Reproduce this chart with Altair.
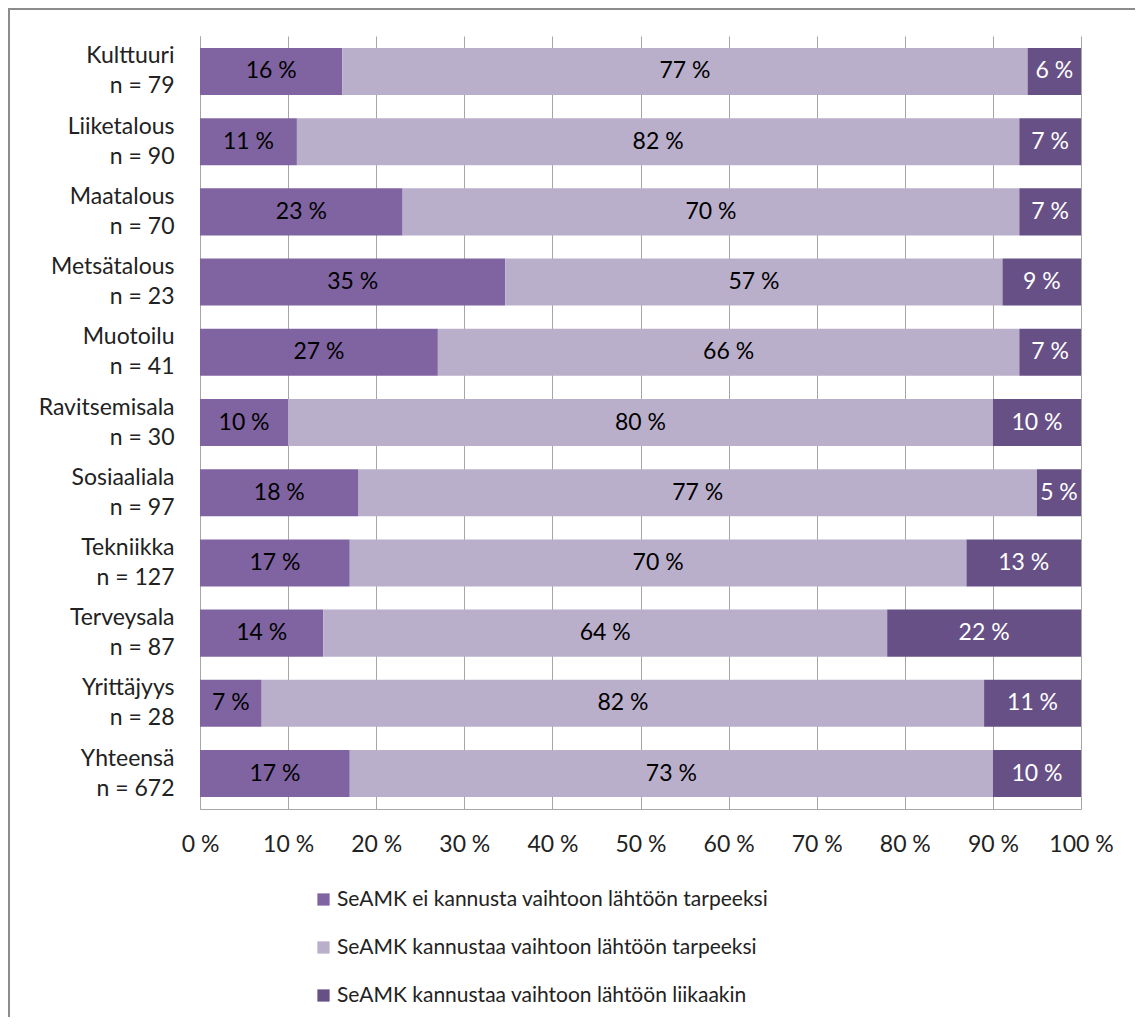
import altair as alt
import pandas as pd

categories = ["Kulttuuri", "Liiketalous", "Maatalous", "Metsätalous", "Muotoilu",
              "Ravitsemisala", "Sosiaaliala", "Tekniikka", "Terveysala", "Yrittäjyys", "Yhteensä"]
n_values = [79, 90, 70, 23, 41, 30, 97, 127, 87, 28, 672]
series = ["SeAMK ei kannusta vaihtoon lähtöön tarpeeksi",
          "SeAMK kannustaa vaihtoon lähtöön tarpeeksi",
          "SeAMK kannustaa vaihtoon lähtöön liikaakin"]
ei_kannusta = [16, 11, 23, 35, 27, 10, 18, 17, 14, 7, 17]
tarpeeksi = [77, 82, 70, 57, 66, 80, 77, 70, 64, 82, 73]
liikaakin = [6, 7, 7, 9, 7, 10, 5, 13, 22, 11, 10]
colors = ["#8064A2", "#BAAFCB", "#675086"]
text_colors = ["black", "black", "white"]

rows = []
for i, c in enumerate(categories):
    lab = f"{c}\nn = {n_values[i]}"
    for j, vals in enumerate([ei_kannusta, tarpeeksi, liikaakin]):
        rows.append({"cat": lab, "series": series[j], "order": j,
                     "value": vals[i], "tc": text_colors[j]})
df = pd.DataFrame(rows)
cat_order = [f"{c}\nn = {n}" for c, n in zip(categories, n_values)]

FONT = "Lato"
AX = 23

base = alt.Chart(df)

y_enc = alt.Y("cat:N", sort=cat_order, title=None,
              scale=alt.Scale(paddingInner=0.33, paddingOuter=0.17),
              axis=alt.Axis(labelExpr="split(datum.label, '\\n')", labelAlign="right",
                            labelBaseline="middle", labelLineHeight=30, labelPadding=26,
                            labelOffset=-15,
                            ticks=False, domainColor="#A6A6A6", labelFontSize=AX,
                            labelFont=FONT, labelColor="#222222", minExtent=180, maxExtent=180))

bars = base.mark_bar().encode(
    x=alt.X("value:Q", stack="normalize", title=None,
            scale=alt.Scale(domain=[0, 1]),
            axis=alt.Axis(values=[i / 10 for i in range(11)],
                          labelExpr="round(datum.value*100) + ' %'",
                          grid=True, gridColor="#A6A6A6", ticks=False, labelFlush=False,
                          domainColor="#A6A6A6", labelPadding=24, labelFontSize=AX,
                          labelFont=FONT, labelColor="#222222")),
    y=y_enc,
    color=alt.Color("series:N", sort=series,
                    scale=alt.Scale(domain=series, range=colors),
                    legend=alt.Legend(title=None, orient="none", legendX=113, legendY=853,
                                      direction="vertical", symbolType="square",
                                      symbolSize=150, symbolStrokeWidth=0,
                                      labelFontSize=21, labelFont=FONT, labelColor="#222222",
                                      rowPadding=26, labelOffset=3, padding=0,
                                      labelLimit=800)),
    order=alt.Order("order:Q"),
)

texts = base.transform_joinaggregate(
    total="sum(value)", groupby=["cat"]
).transform_window(
    cum="sum(value)", groupby=["cat"], sort=[alt.SortField("order")]
).transform_calculate(
    mid="(datum.cum - datum.value/2) / datum.total",
    lbl="datum.value + ' %'"
).mark_text(fontSize=AX, font=FONT, baseline="middle", align="center").encode(
    x=alt.X("mid:Q"),
    y=alt.Y("cat:N", sort=cat_order),
    text="lbl:N",
    color=alt.Color("tc:N", scale=None),
)

frame = alt.Chart(alt.Data(values=[{"a": 1}])).mark_rect(
    fill=None, stroke="#8C8C8C", strokeWidth=2
).encode(
    x=alt.value(-191), x2=alt.value(1100), y=alt.value(-27), y2=alt.value(1100)
)

chart = alt.layer(bars, texts, frame).properties(
    width=881, height=773,
    autosize=alt.AutoSizeParams(type="none"),
    padding={"left": 192, "top": 28, "right": 54, "bottom": 208},
    background="white",
).configure_view(stroke=None)

chart.save("out.html", embed_options={"renderer": "svg", "actions": False})
